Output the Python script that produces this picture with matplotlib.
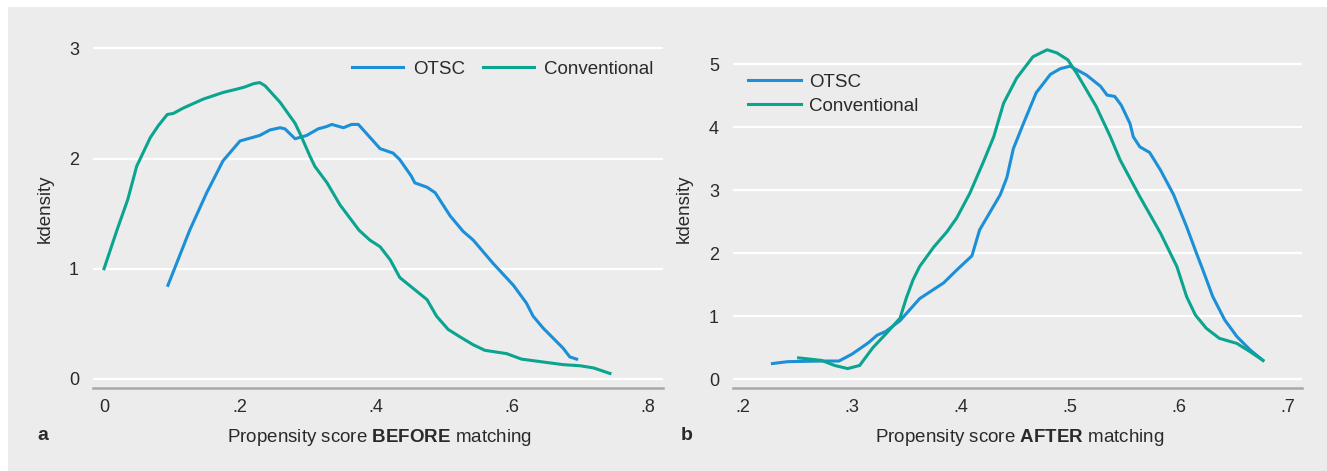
import numpy as np
import matplotlib
matplotlib.use('Agg')
import matplotlib.pyplot as plt
from matplotlib.patches import Rectangle

plt.rcParams['font.family'] = ['Liberation Sans', 'DejaVu Sans']
plt.rcParams['mathtext.fontset'] = 'custom'
plt.rcParams['mathtext.rm'] = 'Liberation Sans'
plt.rcParams['mathtext.bf'] = 'Liberation Sans:bold'

# Panel a: before matching
before_otsc_x = [0.094, 0.110, 0.126, 0.151, 0.175, 0.200, 0.229, 0.244, 0.259, 0.266, 0.281,
                 0.298, 0.315, 0.327, 0.335, 0.352, 0.364, 0.374, 0.406, 0.425, 0.435, 0.452,
                 0.457, 0.475, 0.487, 0.509, 0.528, 0.543, 0.572, 0.602, 0.621, 0.631, 0.646,
                 0.675, 0.685, 0.695]
before_otsc_y = [0.85, 1.10, 1.35, 1.69, 1.98, 2.16, 2.21, 2.26, 2.28, 2.27, 2.18,
                 2.21, 2.27, 2.29, 2.31, 2.28, 2.31, 2.31, 2.09, 2.05, 1.99, 1.84,
                 1.78, 1.74, 1.69, 1.48, 1.34, 1.26, 1.05, 0.85, 0.69, 0.57, 0.46,
                 0.28, 0.20, 0.18]
before_conv_x = [0.000, 0.019, 0.035, 0.048, 0.068, 0.080, 0.093, 0.102, 0.117, 0.146, 0.175,
                 0.195, 0.207, 0.220, 0.229, 0.237, 0.259, 0.281, 0.288, 0.303, 0.310, 0.328,
                 0.347, 0.375, 0.391, 0.406, 0.421, 0.435, 0.457, 0.475, 0.489, 0.506, 0.524,
                 0.543, 0.560, 0.592, 0.614, 0.675, 0.700, 0.720, 0.744]
before_conv_y = [1.00, 1.35, 1.63, 1.93, 2.19, 2.30, 2.40, 2.41, 2.46, 2.54, 2.60,
                 2.63, 2.65, 2.68, 2.69, 2.66, 2.51, 2.32, 2.23, 2.02, 1.93, 1.78,
                 1.58, 1.35, 1.26, 1.20, 1.08, 0.92, 0.81, 0.72, 0.57, 0.45, 0.38,
                 0.31, 0.26, 0.23, 0.18, 0.13, 0.12, 0.10, 0.05]

# Panel b: after matching
after_otsc_x = [0.227, 0.241, 0.272, 0.288, 0.300, 0.315, 0.323, 0.331, 0.344, 0.362, 0.384,
                0.397, 0.410, 0.417, 0.436, 0.442, 0.448, 0.457, 0.469, 0.482, 0.491, 0.500,
                0.515, 0.528, 0.534, 0.541, 0.547, 0.555, 0.558, 0.564, 0.573, 0.583, 0.595,
                0.607, 0.616, 0.622, 0.631, 0.642, 0.653, 0.665, 0.677]
after_otsc_y = [0.25, 0.28, 0.29, 0.29, 0.40, 0.58, 0.70, 0.76, 0.93, 1.28, 1.53,
                1.75, 1.96, 2.37, 2.93, 3.20, 3.66, 4.05, 4.55, 4.84, 4.93, 4.97,
                4.83, 4.65, 4.51, 4.49, 4.35, 4.06, 3.85, 3.69, 3.60, 3.32, 2.93,
                2.42, 2.00, 1.73, 1.31, 0.94, 0.68, 0.47, 0.30]
after_conv_x = [0.251, 0.272, 0.284, 0.296, 0.307, 0.319, 0.331, 0.344, 0.350, 0.356, 0.362,
                0.375, 0.387, 0.396, 0.408, 0.420, 0.430, 0.439, 0.451, 0.466, 0.479, 0.488,
                0.498, 0.506, 0.524, 0.537, 0.546, 0.564, 0.583, 0.598, 0.607, 0.615, 0.625,
                0.637, 0.653, 0.665, 0.677]
after_conv_y = [0.34, 0.30, 0.22, 0.17, 0.22, 0.50, 0.72, 0.97, 1.30, 1.58, 1.79,
                2.10, 2.34, 2.56, 2.95, 3.43, 3.85, 4.38, 4.78, 5.12, 5.23, 5.18,
                5.07, 4.86, 4.33, 3.85, 3.48, 2.90, 2.32, 1.79, 1.31, 1.02, 0.81,
                0.65, 0.57, 0.44, 0.30]

series_labels = ['OTSC', 'Conventional']
before_xticks = [0, 0.2, 0.4, 0.6, 0.8]
before_xticklabels = ['0', '.2', '.4', '.6', '.8']
before_yticks = [0, 1, 2, 3]
after_xticks = [0.2, 0.3, 0.4, 0.5, 0.6, 0.7]
after_xticklabels = ['.2', '.3', '.4', '.5', '.6', '.7']
after_yticks = [0, 1, 2, 3, 4, 5]

BLUE = '#1b8fd7'
TEAL = '#0aa48f'
BG = '#ebeceb'
TXT = '#2a2a2a'

W, H = 1327, 471
fig = plt.figure(figsize=(W / 100, H / 100), dpi=100)
fig.patches.append(Rectangle((8 / W, 0), 1, (H - 7) / H, transform=fig.transFigure,
                             facecolor=BG, edgecolor='none', zorder=-10))

ax1 = fig.add_axes([93 / W, (H - 388) / H, 570 / W, 358 / H])
ax2 = fig.add_axes([733 / W, (H - 388) / H, 569 / W, 358 / H])


def style(ax, xticks, xlabels, yticks, xlim, ylim, xlabel_bold, panel):
    ax.set_facecolor(BG)
    for s in ['top', 'left', 'right']:
        ax.spines[s].set_visible(False)
    ax.spines['bottom'].set_color('#a8a8a8')
    ax.spines['bottom'].set_linewidth(1.8)
    ax.set_xlim(*xlim)
    ax.set_ylim(*ylim)
    ax.set_xticks(xticks)
    ax.set_xticklabels(xlabels)
    ax.set_yticks(yticks)
    ax.tick_params(axis='both', length=0, labelsize=13, colors=TXT)
    ax.tick_params(axis='x', pad=8)
    ax.tick_params(axis='y', pad=10)
    ax.yaxis.grid(True, color='white', lw=1.6)
    ax.set_axisbelow(True)
    ax.set_ylabel('kdensity', fontsize=13.5, color=TXT)
    ax.set_xlabel('Propensity score $\\mathbf{' + xlabel_bold + '}$ matching',
                  fontsize=13.5, color=TXT)
    ax.xaxis.set_label_coords(0.503, -0.108)
    ax.text(panel[1], -0.146, panel[0], transform=ax.transAxes, fontsize=14,
            fontweight='bold', color=TXT, ha='center', va='baseline')


# left: before matching
ax1.plot(before_otsc_x, before_otsc_y, color=BLUE, lw=2.2, label=series_labels[0])
ax1.plot(before_conv_x, before_conv_y, color=TEAL, lw=2.2, label=series_labels[1])
style(ax1, before_xticks, before_xticklabels, before_yticks, (-0.0162, 0.822),
      (-0.082, 3.167), 'BEFORE', ('a', -0.088))
ax1.yaxis.set_label_coords(-0.069, 0.5)
ax1.legend(loc='center left', bbox_to_anchor=(0.455, 0.89), ncol=2, frameon=False,
           fontsize=13.5, handlelength=2.7, handletextpad=0.55, columnspacing=0.95,
           borderpad=0, borderaxespad=0, labelcolor=TXT)

# right: after matching
ax2.plot(after_otsc_x, after_otsc_y, color=BLUE, lw=2.2, label=series_labels[0])
ax2.plot(after_conv_x, after_conv_y, color=TEAL, lw=2.2, label=series_labels[1])
style(ax2, after_xticks, after_xticklabels, after_yticks, (0.1908, 0.7128),
      (-0.138, 5.544), 'AFTER', ('b', -0.082))
ax2.yaxis.set_label_coords(-0.071, 0.5)
ax2.legend(loc='center left', bbox_to_anchor=(0.0264, 0.8207), ncol=1, frameon=False,
           fontsize=13.5, handlelength=2.8, handletextpad=0.45, labelspacing=0.35,
           borderpad=0, borderaxespad=0, labelcolor=TXT)

plt.savefig('out.png', dpi=100)
